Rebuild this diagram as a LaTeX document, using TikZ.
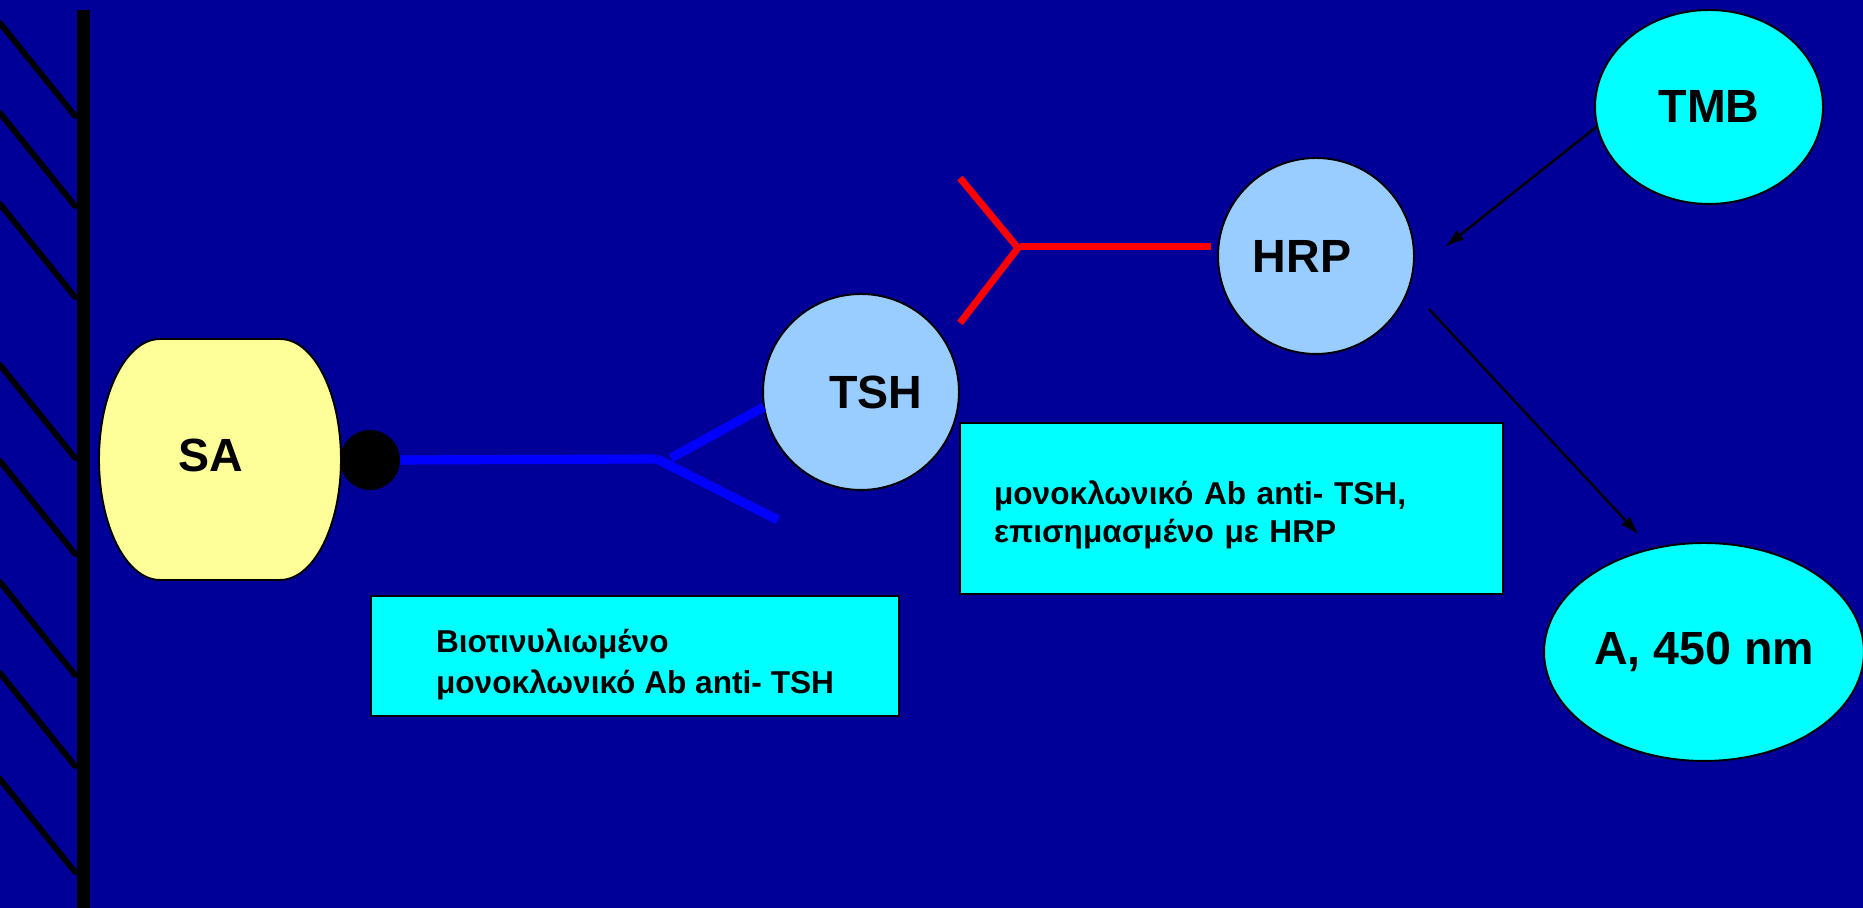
\documentclass[tikz,border=0pt]{standalone}
\usepackage{fontspec}
\setmainfont{Liberation Sans}
\usetikzlibrary{arrows.meta}
\usetikzlibrary{calc,shapes.geometric}

\definecolor{bgblue}{RGB}{0,0,153}
\definecolor{sayellow}{RGB}{255,255,153}
\definecolor{agblue}{RGB}{153,204,255}
\definecolor{boxcyan}{RGB}{0,255,255}

\begin{document}
\begin{tikzpicture}[x=0.02cm,y=0.02cm,
	lbl/.style={font=\fontsize{26.5}{30}\selectfont\bfseries},
	blob/.style={circle,draw=black,line width=1.1pt,fill=agblue,minimum size=3.92cm,inner sep=0pt},
	oval/.style={ellipse,draw=black,line width=1.1pt,fill=boxcyan,inner sep=0pt,lbl},
	infobox/.style={rectangle,draw=black,line width=1.1pt,fill=boxcyan,align=left,inner ysep=0pt},
	boxtext/.style={font=\fontsize{18}{23}\selectfont\bfseries},
	hatch/.style={line width=3.4pt,line cap=round},
	flow/.style={-{Latex[length=11pt,width=7pt]},line width=1.4pt}]

		\fill [bgblue] (0,0) rectangle (1863,908);
		\useasboundingbox (0,0) rectangle (1863,908);

		% wall with its hatching
		\draw [line width=7.4pt] (83.5,0) -- (83.5,898);
		\foreach \y in {885,795,704,543,447,326,235,129}
			\draw [hatch] (0,\y) -- ++(75,-93);

		% streptavidin
		\draw [fill=sayellow, line width=1.1pt] (160,569) -- (280,569)
			arc [start angle=90, end angle=-90, x radius=61, y radius=120.5] -- (160,328)
			arc [start angle=270, end angle=90, x radius=61, y radius=120.5] -- cycle;
		\node [lbl] (sa) at (211,453) {SA};
		\node [circle, fill=black, minimum size=1.2cm, inner sep=0pt] (dot) at (370,448) {};

		\node [blob, label={[lbl,xshift=0.3cm]center:TSH}] (tsh) at (861,516) {};
		\node [blob, label={[lbl,xshift=-0.28cm]center:HRP}] (hrp) at (1316,652) {};
		\node [oval, minimum width=4.56cm, minimum height=3.88cm] (tmb) at (1709,801) {TMB};
		\node [oval, minimum width=6.4cm, minimum height=4.36cm] (abs) at (1704,256) {A, 450 nm};

		% biotinylated antibody
		\coordinate (bfork) at (657,449);
		\draw [blue, line width=5.2pt] (dot.east) -- (bfork);
		\draw [blue, line width=5.2pt] (bfork) -- (778,388);
		\draw [blue, line width=5.2pt] (671,450) -- (764,501);

		% labelled antibody
		\coordinate (rfork) at (1018,660);
		\draw [red, line width=4pt] (960,730) -- (rfork) -- (960,585);
		\draw [red, line width=4pt] ($(rfork)+(2,1)$) -- ($(hrp.west)+(-6,9)$);

		\node [infobox, minimum width=10.56cm, minimum height=2.4cm, boxtext] (bbox) at (635,252)
			{\rule{0pt}{23pt}Βιοτινυλιωμένο\\μονοκλωνικό Ab anti- TSH};
		\node [infobox, minimum width=10.86cm, minimum height=3.42cm, text width=9.5cm, inner xsep=0.68cm,
			boxtext, font=\fontsize{18}{21.5}\selectfont\bfseries] (hbox) at (1231.5,399.5)
			{\rule{0pt}{21pt}μονοκλωνικό Ab anti- TSH,\\επισημασμένο με HRP};

		\coordinate (hrpin) at (1445,661);
		\coordinate (hrpout) at ($(hrp)+(113,-53)$);
		\coordinate (absin) at (1639,373);
		\draw [flow] (tmb.190) -- (hrpin);
		\draw [flow] (hrpout) -- (absin);
\end{tikzpicture}
\end{document}
